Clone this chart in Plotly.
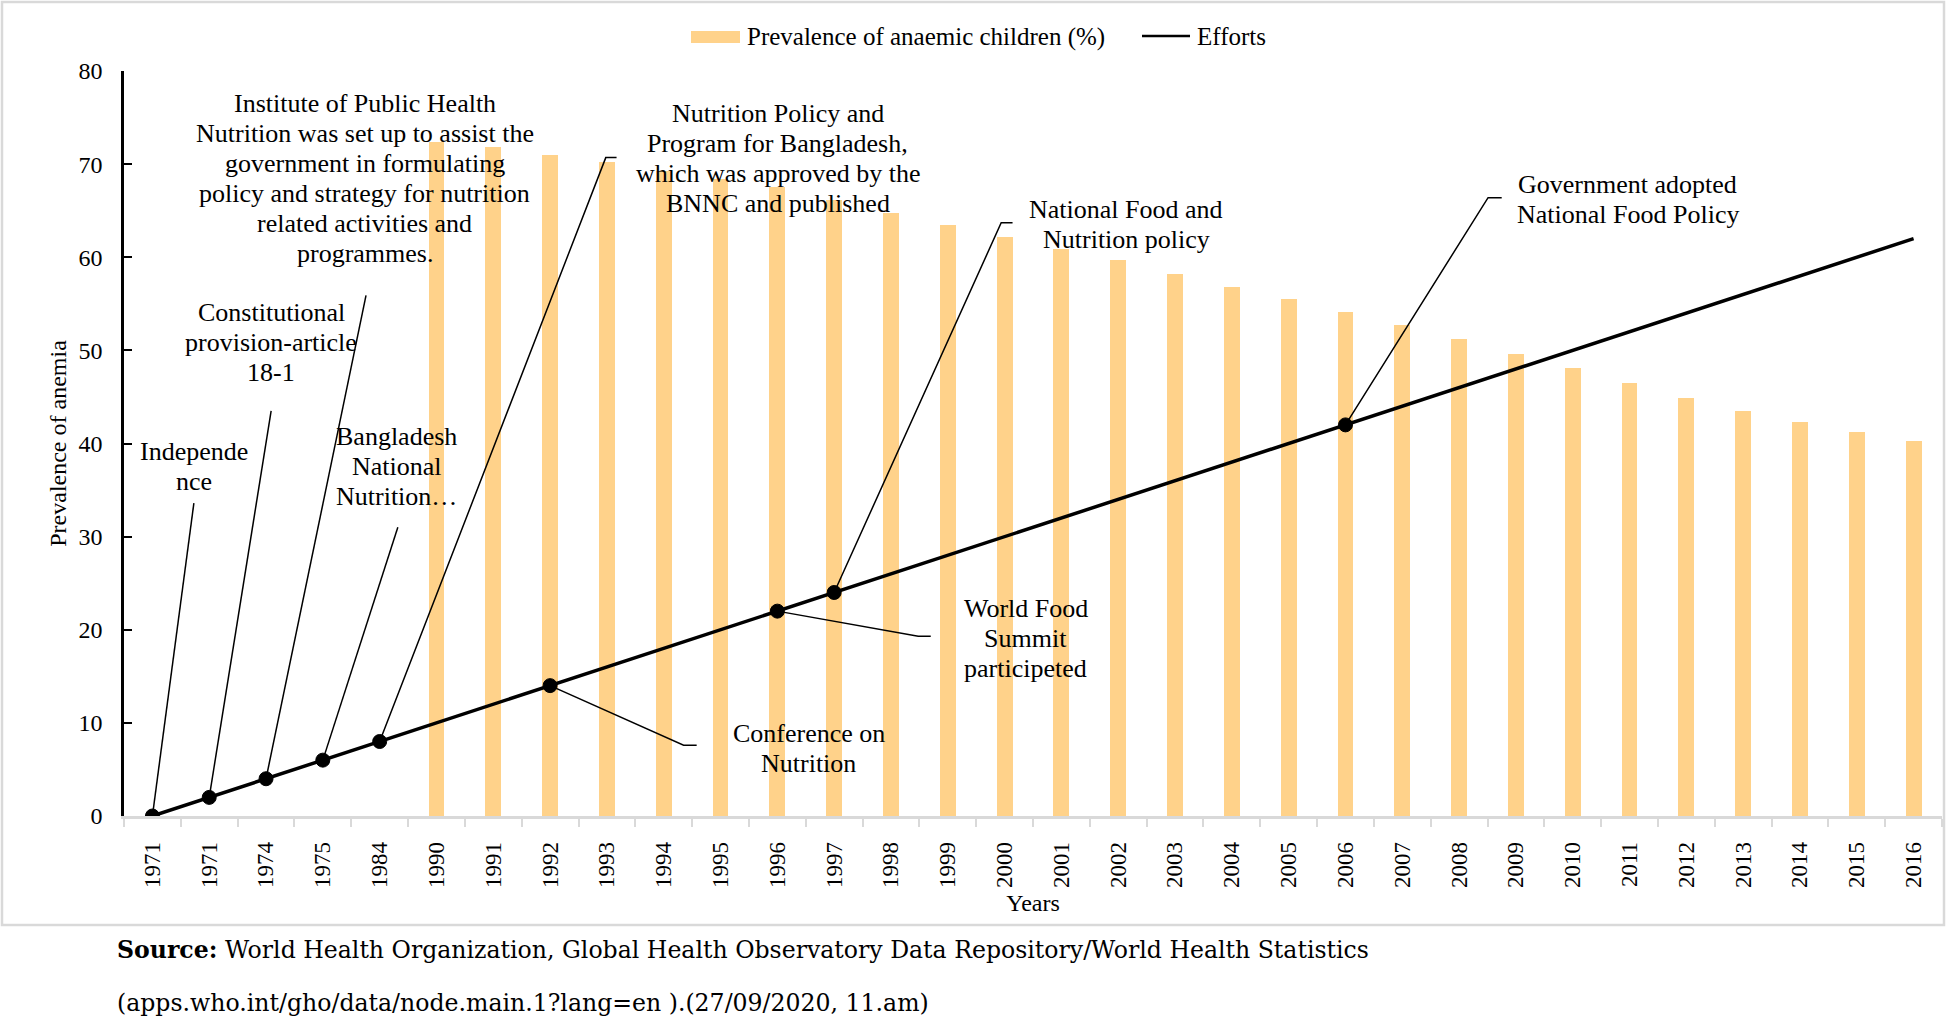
import plotly.graph_objects as go

## DATA
years = ['1971', '1971', '1974', '1975', '1984', '1990', '1991', '1992', '1993',
         '1994', '1995', '1996', '1997', '1998', '1999', '2000', '2001', '2002',
         '2003', '2004', '2005', '2006', '2007', '2008', '2009', '2010', '2011',
         '2012', '2013', '2014', '2015', '2016']

# prevalence of anaemic children (%), only reported from 1990 on
anaemia_years = ['1990', '1991', '1992', '1993', '1994', '1995', '1996', '1997',
                 '1998', '1999', '2000', '2001', '2002', '2003', '2004', '2005',
                 '2006', '2007', '2008', '2009', '2010', '2011', '2012', '2013',
                 '2014', '2015', '2016']
anaemia = [72.4, 71.8, 71.0, 70.2, 69.3, 68.4, 67.5, 66.2, 64.8, 63.5, 62.2, 60.9,
           59.7, 58.2, 56.8, 55.5, 54.1, 52.7, 51.2, 49.6, 48.1, 46.5, 44.9, 43.5,
           42.3, 41.2, 40.3]

# efforts index
efforts = [0, 2, 4, 6, 8, 10, 12, 14, 16, 18, 20, 22, 24, 26, 28, 30, 32, 34, 36,
           38, 40, 42, 44, 46, 48, 50, 52, 54, 56, 58, 60, 62]

# milestones (index into years)
event_idx = [0, 1, 2, 3, 4, 7, 11, 12, 21]
event_text = [
    'Independe<br>nce',
    'Constitutional<br>provision-article<br>18-1',
    'Institute of Public Health<br>Nutrition was set up to assist the<br>government in formulating<br>'
    'policy and strategy for nutrition<br>related activities and<br>programmes.',
    'Bangladesh<br>National<br>Nutrition…',
    'Nutrition Policy and<br>Program for Bangladesh,<br>which was approved by the<br>BNNC and published',
    'Conference on<br>Nutrition',
    'World Food<br>Summit<br>participeted',
    'National Food and<br>Nutrition policy',
    'Government adopted<br>National Food Policy',
]

## LABEL LAYOUT (axis units: x = category index, y = value)
label_pos = [(0.73, 37.5), (2.09, 50.8), (3.74, 68.5), (4.30, 37.5), (11.01, 70.6),
             (11.55, 7.3), (15.37, 19.1), (17.14, 63.5), (25.97, 66.2)]
leader_pts = [
    [(0.73, 33.6)],
    [(2.09, 43.5)],
    [(3.76, 55.9)],
    [(4.32, 31.0)],
    [(7.98, 70.7), (8.17, 70.7)],
    [(9.35, 7.6), (9.58, 7.6)],
    [(13.48, 19.3), (13.70, 19.3)],
    [(14.94, 63.7), (15.14, 63.7)],
    [(23.51, 66.4), (23.75, 66.4)],
]
LINE_GAP = 30  # px between label lines

FONT = 'Liberation Serif'
BAR_COL = '#FFD28A'
GRID = '#D9D9D9'

W, H = 1947, 1021
L, R, T, B = 124, 5, 71, 205
PW, PH = W - L - R, H - T - B


def px(x):  # page pixel -> paper x
    return (x - L) / PW


def py(y):  # page pixel -> paper y
    return (H - B - y) / PH


x_idx = list(range(len(years)))
bar_x = [years.index(y, 5) for y in anaemia_years]

fig = go.Figure()
fig.add_trace(go.Bar(x=bar_x, y=anaemia, width=0.28, marker=dict(color=BAR_COL, line_width=0),
                     name='Prevalence of anaemic children (%)'))
fig.add_trace(go.Scatter(x=x_idx, y=efforts, mode='lines+markers', name='Efforts',
                         line=dict(color='black', width=3.5),
                         marker=dict(color='black', opacity=1,
                                     line=dict(color='black', width=1),
                                     size=[14 if i in event_idx else 0 for i in x_idx])))

# leader lines + labels (one annotation per text line to keep the tight spacing)
for i, txt, (tx, ty), pts in zip(event_idx, event_text, label_pos, leader_pts):
    path = f'M {i},{efforts[i]}'
    for (lx, ly) in pts:
        path += f' L {lx},{ly}'
    fig.add_shape(type='path', path=path, xref='x', yref='y',
                  line=dict(color='black', width=1.5))
    lines = txt.split('<br>')
    n = len(lines)
    for k, line in enumerate(lines):
        fig.add_annotation(x=tx, y=ty, xref='x', yref='y', text=line, showarrow=False,
                           xanchor='center', yanchor='middle',
                           yshift=((n - 1) / 2 - k) * LINE_GAP,
                           font=dict(family=FONT, size=26, color='black'))

# legend drawn by hand
fig.add_shape(type='rect', xref='paper', yref='paper', x0=px(691), x1=px(740),
              y0=py(43), y1=py(31), fillcolor=BAR_COL, line_width=0)
fig.add_annotation(x=px(745), y=py(37), xref='paper', yref='paper', xanchor='left',
                   yanchor='middle', text='Prevalence of anaemic children (%)',
                   showarrow=False, font=dict(family=FONT, size=25, color='black'))
fig.add_shape(type='line', xref='paper', yref='paper', x0=px(1142), x1=px(1190),
              y0=py(36), y1=py(36), line=dict(color='black', width=2.5))
fig.add_annotation(x=px(1195), y=py(37), xref='paper', yref='paper', xanchor='left',
                   yanchor='middle', text='Efforts', showarrow=False,
                   font=dict(family=FONT, size=25, color='black'))

# chart border
fig.add_shape(type='rect', xref='paper', yref='paper', x0=px(2), x1=px(1944),
              y0=py(925), y1=py(2), line=dict(color=GRID, width=2.5), layer='below')

# source note
fig.add_annotation(x=px(115), y=py(950), xref='paper', yref='paper', xanchor='left',
                   yanchor='middle',
                   text='<b>Source:</b> World Health Organization, Global Health Observatory '
                        'Data Repository/World Health Statistics',
                   showarrow=False, font=dict(family='DejaVu Serif', size=23.6, color='black'))
fig.add_annotation(x=px(115), y=py(1003), xref='paper', yref='paper', xanchor='left',
                   yanchor='middle',
                   text='(apps.who.int/gho/data/node.main.1?lang=en ).(27/09/2020, 11.am)',
                   showarrow=False, font=dict(family='DejaVu Serif', size=23.6, color='black'))

fig.update_layout(
    width=W, height=H, template='none',
    margin=dict(l=L, r=R, t=T, b=B),
    paper_bgcolor='white', plot_bgcolor='white',
    showlegend=False, bargap=0,
    font=dict(family=FONT, size=23, color='black'),
)
fig.update_xaxes(
    range=[-0.5, len(years) - 0.5], tickmode='array', tickvals=x_idx, ticktext=years,
    tickangle=-90, ticks='', showgrid=False, zeroline=False,
    showline=True, linecolor=GRID, linewidth=2.5,
    ticklabelstandoff=14, tickfont=dict(size=23),
    minor=dict(tickmode='linear', tick0=-0.5, dtick=1, ticks='outside', ticklen=8,
               tickwidth=2, tickcolor=GRID, showgrid=False),
    title=dict(text='Years', font=dict(family=FONT, size=24), standoff=8),
)
fig.update_yaxes(
    range=[0, 80], dtick=10, ticks='inside', ticklen=8, tickwidth=2, tickcolor='black',
    showgrid=False, zeroline=False, showline=True, linecolor='black', linewidth=2.5,
    ticklabelstandoff=14, tickfont=dict(size=24),
    title=dict(text='Prevalence of anemia', font=dict(family=FONT, size=24), standoff=6),
)

# page has a default 8px body margin; drop it so the figure sits at the window edge
fig.write_html('out.html', config={'displayModeBar': False},
               post_script="document.body.style.margin='0';")
